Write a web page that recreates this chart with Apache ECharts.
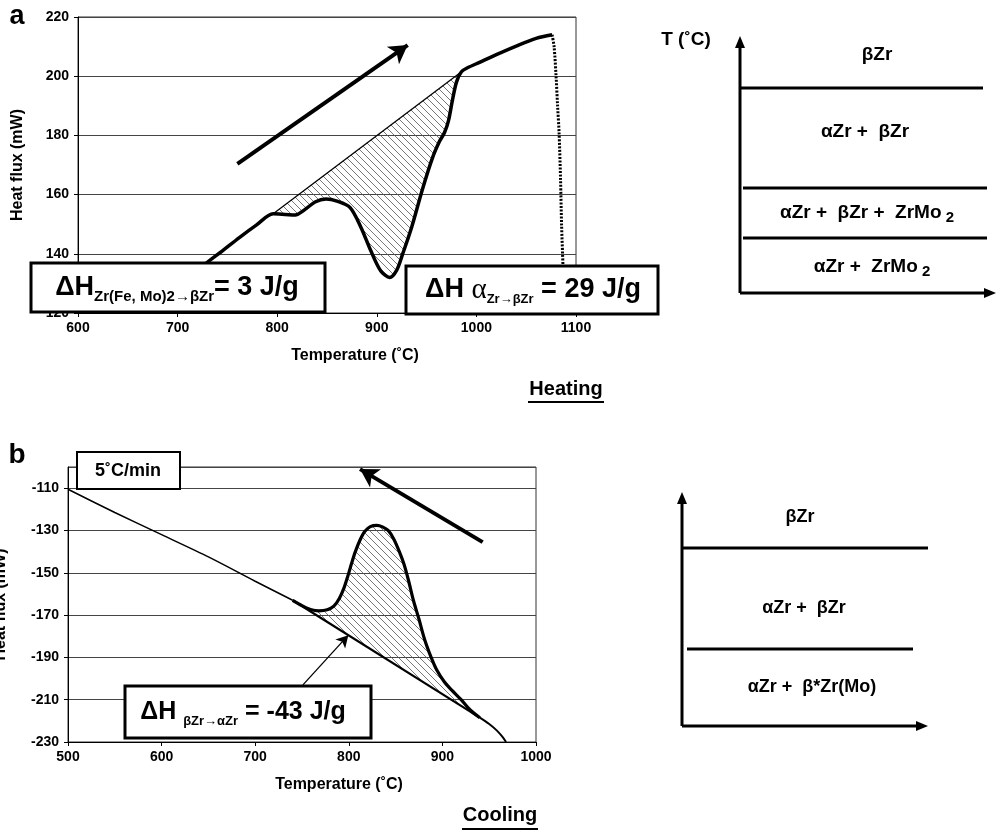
<!DOCTYPE html>
<html>
<head>
<meta charset="utf-8">
<script src="https://cdn.jsdelivr.net/npm/echarts@6/dist/echarts.min.js"></script>
<style>
  html, body { margin: 0; padding: 0; background: #fff; }
  #chart { width: 996px; height: 835px; }
</style>
</head>
<body>
<div id="chart"></div>
<script>
// heating curve (a)
const heatT = [677, 700, 728, 745, 762, 779, 796, 808, 818, 828, 838, 849, 860, 873, 884, 894, 904, 913, 920, 926, 935, 946, 956, 963, 968, 972, 976, 980, 985, 992, 1000, 1020, 1040, 1060, 1076];
const heatQ = [120, 128.3, 136.6, 141, 145.5, 149.7, 153.5, 153.3, 153.1, 155, 157.5, 158.5, 157.8, 155.7, 149, 141, 134.2, 132, 134.5, 140, 149, 162, 172.5, 178, 181, 185, 192, 198, 201.5, 203, 204.2, 207.3, 210.2, 212.8, 214];
const heatBaseT = [796, 985];
const heatBaseQ = [153.5, 201.5];
const dropT = [1076, 1078, 1080, 1081.5, 1083, 1084.5, 1085.5, 1087, 1088];
const dropQ = [214, 210, 200, 190, 181, 165, 150, 135, 120];
const heatArrow = [[760, 170.4], [931, 210.5]];

// cooling curve (b)
const peakT = [940, 930, 920, 910, 902, 894, 888, 881, 875, 869, 864, 859, 854, 848, 842, 836, 830, 823, 817, 812, 807, 803, 799, 795, 790, 784, 777, 768, 760, 750, 740];
const peakQ = [-218.5, -215, -210, -205.5, -201.5, -196, -190, -181.5, -172, -163, -154, -146, -140, -134, -130, -128.3, -127.6, -128.2, -130.5, -134.5, -140, -145.5, -151.5, -157, -162, -165.8, -167.5, -168, -167.5, -165.5, -163];
const coolLowT = [740, 700, 650, 600, 550, 500];
const coolLowQ = [-163, -154, -142.5, -132, -121.5, -110.5];
const tailT = [940, 950, 958, 964, 968];
const tailQ = [-218.5, -221.5, -224.5, -227.5, -230];
const coolBaseT = [740, 940];
const coolBaseQ = [-163, -218.5];
const coolArrow = [[943, -135.5], [812, -101]];
const noteArrow = [[751, -203], [799.5, -179.5]];

const heatTicks = [600, 1100, 100];
const heatFlux = [120, 220, 20];
const coolTicks = [500, 1000, 100];
const coolFlux = [-230, -100, 20];

const zip = (a, b) => a.map((v, i) => [v, b[i]]);
const heatCurve = zip(heatT, heatQ);
const hatchA = heatCurve.filter(p => p[0] >= 796 && p[0] <= 985);
const peakCurve = zip(peakT, peakQ);

// diagonal hatch pattern
const pc = document.createElement('canvas');
pc.width = 7; pc.height = 7;
const g = pc.getContext('2d');
g.strokeStyle = '#555';
g.lineWidth = 0.8;
[-7, 0, 7].forEach(k => {
    g.beginPath();
    g.moveTo(k, 0);
    g.lineTo(k + 7, 7);
    g.stroke();
});
const hatch = { image: pc, repeat: 'repeat' };

const FONT = 'Liberation Sans, Arial, sans-serif';
const black = '#000';

function hatchSeries(xi, pts) {
    return {
        type: 'custom', xAxisIndex: xi, yAxisIndex: xi, z: 1, silent: true,
        data: pts,
        renderItem: function (params, api) {
            if (params.dataIndex !== 0) return;
            return {
                type: 'polygon',
                shape: { points: pts.map(p => api.coord(p)) },
                style: { fill: hatch, stroke: 'none' }
            };
        }
    };
}

function lineSeries(xi, data, width, extra) {
    return Object.assign({
        type: 'line', xAxisIndex: xi, yAxisIndex: xi, data: data,
        showSymbol: false, smooth: 0.3, z: 3,
        lineStyle: { color: black, width: width }
    }, extra || {});
}

function arrowLine(pair, width, size) {
    return {
        silent: true, symbol: ['none', 'arrow'], symbolSize: size,
        label: { show: false },
        lineStyle: { color: black, width: width, type: 'solid' },
        data: [[{ coord: pair[0] }, { coord: pair[1] }]]
    };
}

function xAxisOf(gi, t, shift) {
    return {
        type: 'value', gridIndex: gi, min: t[0], max: t[1], interval: t[2],
        axisLine: { onZero: false, lineStyle: { color: black } },
        axisTick: { length: 4, lineStyle: { color: black } },
        splitLine: { show: false },
        axisLabel: { color: black, fontWeight: 'bold', fontSize: 14, fontFamily: FONT, margin: 8,
            formatter: v => String(v) },
        name: 'Temperature (˚C)', nameLocation: 'middle', nameGap: 35,
        nameTextStyle: { color: black, fontWeight: 'bold', fontSize: 16, fontFamily: FONT, padding: [0, 0, 0, shift] }
    };
}

function yAxisOf(gi, t, gap) {
    return {
        type: 'value', gridIndex: gi, min: t[0], max: t[1], interval: t[2],
        axisLine: { onZero: false, lineStyle: { color: black } },
        axisTick: { length: 4, lineStyle: { color: black } },
        splitLine: { lineStyle: { color: '#444', width: 1 } },
        axisLabel: { color: black, fontWeight: 'bold', fontSize: 14, fontFamily: FONT, margin: 9, showMaxLabel: gi === 0 },
        name: 'Heat flux (mW)', nameLocation: 'middle', nameGap: gap,
        nameTextStyle: { color: black, fontWeight: 'bold', fontSize: 16, fontFamily: FONT }
    };
}

function box(x, y, w, h, lw) {
    return { type: 'rect', z: 100, shape: { x: x, y: y, width: w, height: h },
        style: { fill: '#fff', stroke: black, lineWidth: lw } };
}
function seg(x1, y1, x2, y2, w) {
    return { type: 'line', z: 100, shape: { x1: x1, y1: y1, x2: x2, y2: y2 },
        style: { stroke: black, lineWidth: w } };
}
function tri(pts) {
    return { type: 'polygon', z: 100, shape: { points: pts }, style: { fill: black } };
}
function txt(x, y, text, size, extra) {
    return { type: 'text', z: 101, x: x, y: y,
        style: Object.assign({ text: text, fill: black, fontSize: size, fontWeight: 'bold',
            fontFamily: FONT, align: 'center', verticalAlign: 'middle' }, extra || {}) };
}

function bigStyle(size) {
    return { fontSize: size, fontWeight: 'bold', fontFamily: FONT, fill: black, lineHeight: 32, verticalAlign: 'middle' };
}
function subStyle(size) {
    return { fontSize: size, fontWeight: 'bold', fontFamily: FONT, fill: black, lineHeight: 15, verticalAlign: 'bottom' };
}
const alpha = { fontSize: 29, fontWeight: 'normal', fontFamily: 'Liberation Serif, serif', fill: black, lineHeight: 32, verticalAlign: 'middle' };
const dg = { fontSize: 19, fontWeight: 'bold', fontFamily: FONT, fill: black, lineHeight: 24, verticalAlign: 'middle' };
const dgs = { fontSize: 15, fontWeight: 'bold', fontFamily: FONT, fill: black, lineHeight: 12, verticalAlign: 'bottom' };

const graphics = [
    txt(17, 17, 'a', 27),
    txt(17, 455, 'b', 28),
    // panel a boxes
    box(31, 263, 294, 49, 3),
    txt(177, 288, '{m|ΔH}{s|Zr(Fe, Mo)2→βZr}{m|= 3 J/g}', 27, { rich: { m: bigStyle(27), s: subStyle(15) } }),
    box(406, 266, 252, 48, 3),
    txt(533, 290, '{m|ΔH }{a|α}{s|Zr→βZr}{m| = 29 J/g}', 27, { rich: { m: bigStyle(27), a: alpha, s: subStyle(13) } }),
    // panel b boxes
    box(77, 452, 103, 37, 2),
    txt(128, 471, '5˚C/min', 18),
    box(125, 686, 246, 52, 3),
    txt(243, 712, '{m|ΔH }{s|βZr→αZr}{m| = -43 J/g}', 25, { rich: { m: bigStyle(25), s: subStyle(13) } }),
    // labels
    txt(566, 389, 'Heating', 20),
    seg(528, 402, 604, 402, 2),
    txt(500, 815, 'Cooling', 20),
    seg(462, 829, 538, 829, 2),
    // diagram a
    seg(740, 293, 740, 45, 3), tri([[740, 36], [735, 48], [745, 48]]),
    seg(740, 293, 986, 293, 3), tri([[996, 293], [984, 288], [984, 298]]),
    seg(740, 88, 983, 88, 3),
    seg(743, 188, 987, 188, 3),
    seg(743, 238, 987, 238, 3),
    txt(686, 40, 'T (˚C)', 19),
    txt(877, 55, 'βZr', 19),
    txt(865, 132, 'αZr +  βZr', 19),
    txt(867, 213, '{d|αZr +  βZr +  ZrMo}{e| 2}', 19, { rich: { d: dg, e: dgs } }),
    txt(872, 267, '{d|αZr +  ZrMo}{e| 2}', 19, { rich: { d: dg, e: dgs } }),
    // diagram b
    seg(682, 726, 682, 502, 3), tri([[682, 492], [677, 504], [687, 504]]),
    seg(682, 726, 918, 726, 3), tri([[928, 726], [916, 721], [916, 731]]),
    seg(682, 548, 928, 548, 3),
    seg(687, 649, 913, 649, 3),
    txt(800, 517, 'βZr', 18),
    txt(804, 608, 'αZr +  βZr', 18),
    txt(812, 687, 'αZr +  β*Zr(Mo)', 18)
];

const option = {
    animation: false,
    backgroundColor: '#fff',
    textStyle: { fontFamily: FONT },
    grid: [
        { left: 78, top: 17, width: 498, height: 296, show: true, borderColor: '#333', borderWidth: 1,
          backgroundColor: '#fff', containLabel: false, outerBoundsMode: 'none' },
        { left: 68, top: 467, width: 468, height: 275, show: true, borderColor: '#333', borderWidth: 1,
          backgroundColor: '#fff', containLabel: false, outerBoundsMode: 'none' }
    ],
    xAxis: [xAxisOf(0, heatTicks, 56), xAxisOf(1, coolTicks, 74)],
    yAxis: [yAxisOf(0, heatFlux, 52), yAxisOf(1, coolFlux, 59)],
    series: [
        hatchSeries(0, hatchA),
        lineSeries(0, heatCurve, 3.5),
        lineSeries(0, zip(heatBaseT, heatBaseQ), 1.3, { smooth: false, markLine: arrowLine(heatArrow, 4, [16, 18]) }),
        lineSeries(0, zip(dropT, dropQ), 3, { lineStyle: { color: black, width: 3, type: [2, 1.5] } }),
        hatchSeries(1, peakCurve),
        lineSeries(1, peakCurve, 3.2),
        lineSeries(1, zip(coolLowT, coolLowQ), 1.5),
        lineSeries(1, zip(tailT, tailQ), 2),
        lineSeries(1, zip(coolBaseT, coolBaseQ), 2.2, { smooth: false, markLine: arrowLine(coolArrow, 4, [16, 18]) }),
        lineSeries(1, [], 1, { markLine: arrowLine(noteArrow, 1.3, [10, 12]) })
    ],
    graphic: graphics
};

const chart = echarts.init(document.getElementById('chart'));
chart.setOption(option);
</script>
</body>
</html>
